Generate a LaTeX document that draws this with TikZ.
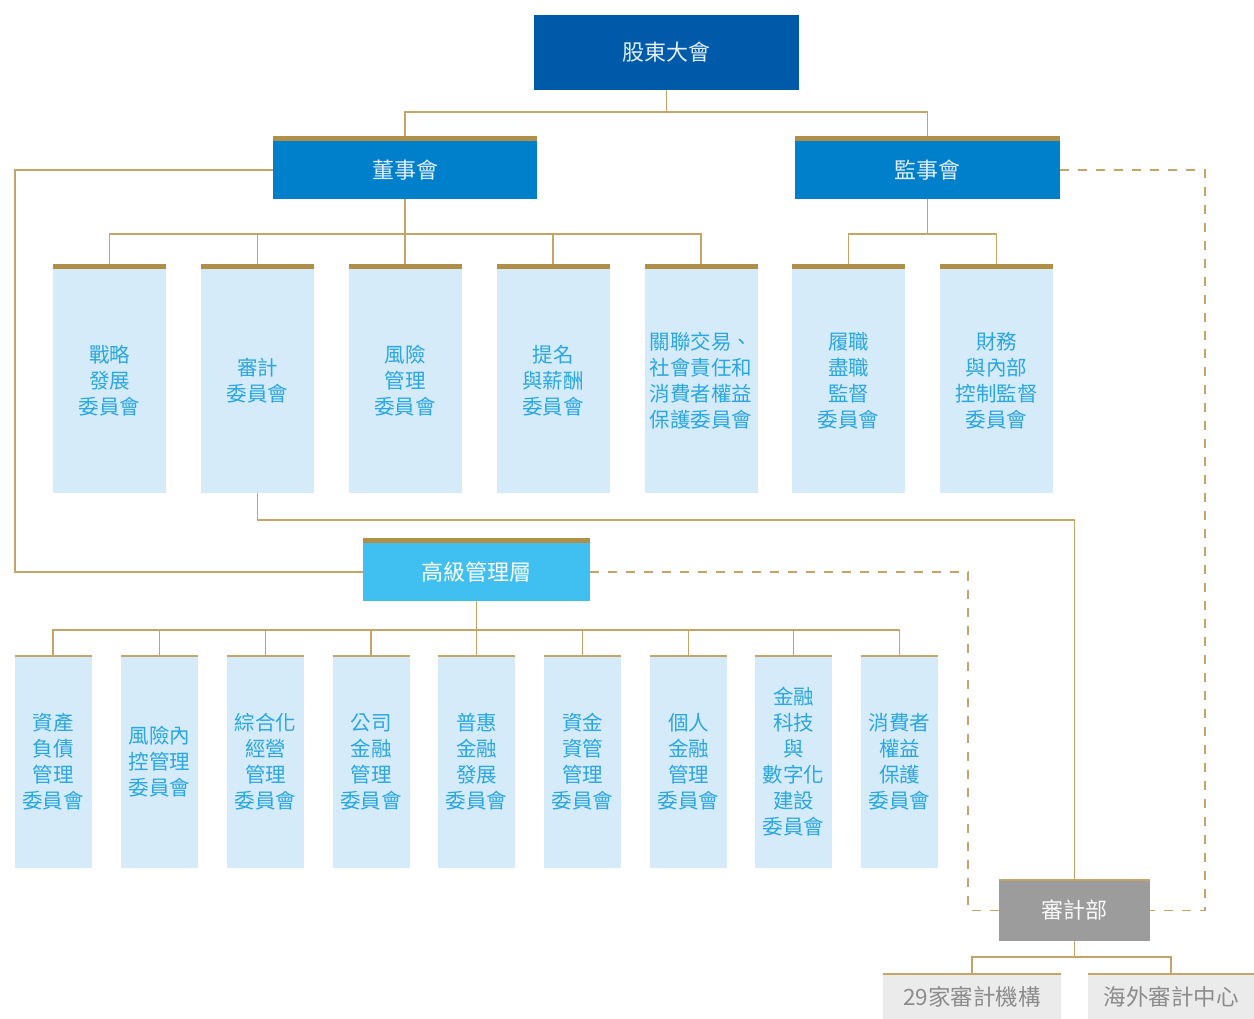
\documentclass[tikz,border=0pt]{standalone}
\usepackage{fontspec}
\newfontfamily\cjk{Noto Sans CJK TC}
\definecolor{gmblue}{HTML}{005AAA}
\definecolor{bblue}{HTML}{0080CB}
\definecolor{sblue}{HTML}{40C0F0}
\definecolor{cfill}{HTML}{D5EBFA}
\definecolor{ctext}{HTML}{2AA6E0}
\definecolor{gold}{HTML}{B09048}
\definecolor{goldline}{HTML}{C4A468}
\definecolor{agray}{HTML}{9C9C9C}
\definecolor{sgray}{HTML}{EBEBEB}
\definecolor{stext}{HTML}{8C8C8C}
\definecolor{htext}{HTML}{E2EEF8}
\begin{document}
\begin{tikzpicture}[x=1pt,y=-1pt,
  base/.style={rectangle, inner sep=0pt, outer sep=0pt, align=center, font=\cjk},
  headbox/.style={base, text=htext, font=\cjk\fontsize{22}{26}\selectfont},
  combox/.style={base, fill=cfill, text=ctext, font=\cjk\fontsize{20.5}{26}\selectfont},
  bcom/.style={combox, minimum width=113pt, minimum height=224pt},
  mcom/.style={combox, minimum width=77pt, minimum height=212pt},
  subbox/.style={base, fill=sgray, text=stext, minimum height=45pt, font=\cjk\fontsize{22.5}{26}\selectfont},
  conn/.style={draw=goldline, line width=1.8pt},
  dashconn/.style={conn, dash pattern=on 9pt off 9pt},
  goldbar/.style={fill=gold},
  thinbar/.style={draw=goldline, line width=2.2pt}
]
\useasboundingbox (0,0) rectangle (1254,1019);

% top level
\node[headbox, fill=gmblue, minimum width=265pt, minimum height=75pt] (gm) at (666.5,52.5) {股東大會};
\node[headbox, fill=bblue, minimum width=264pt, minimum height=58pt] (bod) at (405,170) {董事會};
\node[headbox, fill=bblue, minimum width=265pt, minimum height=58pt] (sup) at (927.5,170) {監事會};

% board committees
\node[bcom] (b1) at (109.5,381) {戰略\\發展\\委員會};
\node[bcom] (b2) at (257.5,381) {審計\\委員會};
\node[bcom] (b3) at (405,381) {風險\\管理\\委員會};
\node[bcom] (b4) at (553,381) {提名\\與薪酬\\委員會};
\node[bcom] (b5) at (701,381) {關聯交易、\\社會責任和\\消費者權益\\保護委員會};
\node[bcom] (s1) at (848.5,381) {履職\\盡職\\監督\\委員會};
\node[bcom] (s2) at (996.5,381) {財務\\與內部\\控制監督\\委員會};

% senior management
\node[headbox, fill=sblue, text=white, minimum width=227pt, minimum height=58pt] (sm) at (476.5,572) {高級管理層};

% management committees
\node[mcom] (m1) at (53,762) {資產\\負債\\管理\\委員會};
\node[mcom] (m2) at (159.5,762) {風險內\\控管理\\委員會};
\node[mcom] (m3) at (265.5,762) {綜合化\\經營\\管理\\委員會};
\node[mcom] (m4) at (371,762) {公司\\金融\\管理\\委員會};
\node[mcom] (m5) at (476.5,762) {普惠\\金融\\發展\\委員會};
\node[mcom] (m6) at (582.5,762) {資金\\資管\\管理\\委員會};
\node[mcom] (m7) at (688.5,762) {個人\\金融\\管理\\委員會};
\node[mcom] (m8) at (793.5,762) {金融\\科技\\與\\數字化\\建設\\委員會};
\node[mcom] (m9) at (899.5,762) {消費者\\權益\\保護\\委員會};

% audit
\node[headbox, fill=agray, text=white!95!gray, minimum width=151pt, minimum height=61pt] (audit) at (1074.5,910.5) {審計部};
\node[subbox, minimum width=178pt] (a1) at (972,996.5) {\raisebox{-4pt}{29家審計機構}};
\node[subbox, minimum width=166pt] (a2) at (1171,996.5) {\raisebox{-4pt}{海外審計中心}};

% gold top bars
\foreach \n in {bod,sup,b1,b2,b3,b4,b5,s1,s2,sm}
  \fill[goldbar] (\n.north west) rectangle ([yshift=5pt]\n.north east);
\foreach \n in {m1,m2,m3,m4,m5,m6,m7,m8,m9,audit,a1,a2}
  \draw[thinbar] (\n.north west) -- (\n.north east);

% connectors
\draw[conn] (gm.south) -- ++(0,22) -| ([yshift=5pt]bod.north);
\draw[conn] (gm.south) -- ++(0,22) -| ([yshift=5pt]sup.north);
\foreach \c in {b1,b2,b3,b4,b5}
  \draw[conn] (bod.south) -- ++(0,35) -| ([yshift=5pt]\c.north);
\foreach \c in {s1,s2}
  \draw[conn] (sup.south) -- ++(0,35) -| ([yshift=5pt]\c.north);
\draw[conn] (bod.west) -- ++(-258,0) |- (sm.west);
\draw[conn] (b2.south) -- ++(0,27) -| (audit.north);
\foreach \c in {m1,m2,m3,m4,m5,m6,m7,m8,m9}
  \draw[conn] (sm.south) -- ++(0,29) -| (\c.north);
\draw[dashconn] (sm.east) -- ++(378,0) |- (audit.west);
\draw[dashconn] (sup.east) -- ++(145,0) |- (audit.east);
\foreach \c in {a1,a2}
  \draw[conn] (audit.south) -- ++(0,16) -| (\c.north);
\end{tikzpicture}
\end{document}
